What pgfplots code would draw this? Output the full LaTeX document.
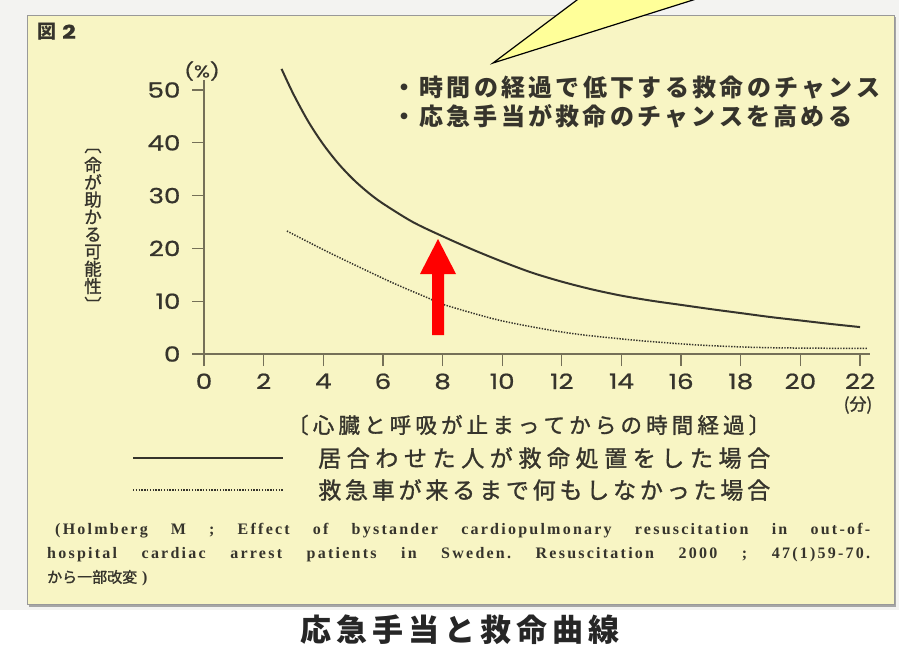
\documentclass[border=0pt]{standalone}
\usepackage{pgfplots}
\pgfplotsset{compat=1.18}
\usepackage{graphicx}
\usepackage{fontspec}
\setmainfont{Liberation Serif}
\newfontfamily\jp{Noto Sans CJK JP}
\newfontfamily\jpm[FakeBold=1.3]{Noto Sans CJK JP}
\newfontfamily\num[FakeStretch=1.25,FakeBold=0.8]{Poppins}
\newfontfamily\citef[LetterSpace=14]{Liberation Serif}
\definecolor{panel}{HTML}{F8F5C4}
\definecolor{outer}{HTML}{F3F3F1}
\definecolor{textc}{HTML}{36342C}
\definecolor{curvec}{HTML}{36342C}
\definecolor{axisc}{HTML}{757058}
\definecolor{callout}{HTML}{FFFF99}
\makeatletter
\newcommand\spread[1]{\spr@#1\@nil}
\def\spr@#1#2\@nil{#1\if\relax\detokenize{#2}\relax\else\hfil\spr@#2\@nil\fi}
\makeatother
\frenchspacing
\begin{document}
\begin{tikzpicture}[x=1pt,y=1pt]
\useasboundingbox (0,0) rectangle (899,-649);
\begin{scope}
\clip (0,0) rectangle (899,-649);
\fill[outer] (0,0) rectangle (899,-649);
\fill[white] (0,-610) rectangle (899,-649);
% panel
\fill[black!35] (29,-17) rectangle (896,-607);
\fill[panel] (27,-15) rectangle (894,-604);
\draw[black!40, line width=0.8pt] (27,-15) rectangle (894,-604);
% callout
\filldraw[fill=callout, draw=black, line width=1.2pt] (590.3,10) -- (493,-63) -- (724.7,10);
\end{scope}
% figure label
\node[anchor=west, inner sep=0, text=textc] at (37,-32) {\jp\bfseries\fontsize{19}{19}\selectfont 図\hspace{6pt}{\num\bfseries 2}};
\node[inner sep=0, text=textc] at (202,-71) {\num\fontsize{17}{17}\selectfont (\%)};
% y label (vertical)
\node[inner sep=0, text=textc, font={\jpm\fontsize{17}{17}\selectfont}] at (93,-151) {︹};
\node[inner sep=0, text=textc, align=center, font={\jpm\fontsize{17.5}{17.3}\selectfont}] at (93,-225.5) {命\\が\\助\\か\\る\\可\\能\\性};
\node[inner sep=0, text=textc, font={\jpm\fontsize{17}{17}\selectfont}] at (93,-304) {︺};
% axis
\begin{axis}[
  at={(204pt,-354pt)}, anchor=south west,
  x=29.82pt, y=5.28pt,
  xmin=0, xmax=22.35, ymin=0, ymax=51.9,
  axis x line=bottom, axis y line=left,
  axis line style={-, draw=axisc, line width=1.6pt},
  xtick={0,2,...,22}, ytick={0,10,...,50},
  tick align=outside, major tick length=12pt,
  tick style={draw=axisc, line width=1.3pt},
  ticklabel style={font=\num\fontsize{21}{21}\selectfont, text=textc},
  xticklabel style={yshift=-4pt},
  yticklabel style={xshift=-8pt},
  /pgf/number format/assume math mode=true,
  clip=false,
]
\addplot[smooth, line width=2pt, color=curvec] coordinates {
(2.6,54.0) (3.0,49.2) (3.5,44.0) (4.0,39.7) (4.5,36.1) (5.0,33.1) (5.5,30.6) (6.0,28.5) (7.0,25.0) (8.0,22.3) (9.0,19.8) (10.0,17.5) (11.0,15.4) (12.0,13.7) (13.0,12.25) (14.0,11.05) (15.0,10.1) (16.0,9.3) (17.0,8.5) (18.0,7.75) (19.0,7.0) (20.0,6.35) (21.0,5.7) (22.0,5.1)
};
\addplot[smooth, line width=1.5pt, color=curvec, dash pattern=on 1.4pt off 1.4pt] coordinates {
(2.78,23.3) (4.2,19.2) (5.9,14.6) (6.6,12.8) (7.6,10.4) (7.9,9.6) (9.9,6.4) (12.2,4.0) (14.4,2.65) (16.6,1.7) (18.9,1.2) (22.25,1.05)
};
\end{axis}
% red arrow (annotation)
\fill[red] (432,-335) -- (444,-335) -- (444,-274) -- (456,-274) -- (438,-239) -- (420,-274) -- (432,-274) -- cycle;
% unit
\node[inner sep=0, text=textc] at (858,-405) {\jpm\fontsize{17}{17}\selectfont (分)};
% annotations
\node[anchor=west, inner sep=0, text=textc] at (392,-88) {\jp\bfseries\fontsize{24}{24}\selectfont\makebox[488pt][s]{\spread{・時間の経過で低下する救命のチャンス}}};
\node[anchor=west, inner sep=0, text=textc] at (392,-116) {\jp\bfseries\fontsize{24}{24}\selectfont\makebox[460pt][s]{\spread{・応急手当が救命のチャンスを高める}}};
% x label
\node[anchor=west, inner sep=0, text=textc] at (287,-425) {\jpm\fontsize{21.5}{21.5}\selectfont\makebox[483pt][s]{\spread{〔心臓と呼吸が止まってからの時間経過〕}}};
% legend
\draw[curvec, line width=2pt] (133,-458) -- (283,-458);
\draw[curvec, line width=1.5pt, dash pattern=on 1.4pt off 1.4pt] (133,-490) -- (283,-490);
\node[anchor=west, inner sep=0, text=textc] at (318,-458) {\jpm\fontsize{23}{23}\selectfont\makebox[452pt][s]{\spread{居合わせた人が救命処置をした場合}}};
\node[anchor=west, inner sep=0, text=textc] at (318,-490) {\jpm\fontsize{23}{23}\selectfont\makebox[452pt][s]{\spread{救急車が来るまで何もしなかった場合}}};
% citation
\node[anchor=west, inner sep=0, text=textc] at (55,-531) {\citef\bfseries\fontsize{16}{16}\selectfont\makebox[815pt][s]{(Holmberg M ; Effect of bystander cardiopulmonary resuscitation in out-of-}};
\node[anchor=west, inner sep=0, text=textc] at (47,-555) {\citef\bfseries\fontsize{16}{16}\selectfont\makebox[823pt][s]{hospital cardiac arrest patients in Sweden. Resuscitation 2000 ; 47(1)59-70.}};
\node[anchor=west, inner sep=0, text=textc] at (47,-578) {\jpm\fontsize{15}{15}\selectfont\makebox[90pt][s]{\spread{から一部改変}}\hspace{5pt}{\citef\bfseries\fontsize{16}{16}\selectfont)}};
% caption
\node[inner sep=0, text=black!85] at (460,-630) {\jp\bfseries\fontsize{31}{31}\selectfont\makebox[320pt][s]{\spread{応急手当と救命曲線}}};
\end{tikzpicture}
\end{document}
